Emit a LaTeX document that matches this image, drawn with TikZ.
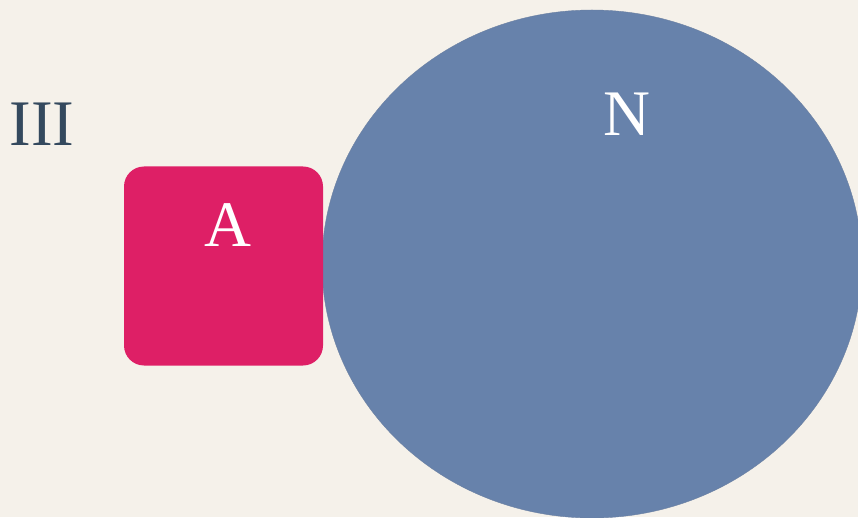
\documentclass[tikz,border=0pt]{standalone}
\usepackage{fontspec}
\setmainfont{Liberation Serif}
\usetikzlibrary{shapes.geometric}
\definecolor{vnBack}{HTML}{F5F1EA}
\definecolor{vnInk}{HTML}{34495E}
\definecolor{vnPink}{HTML}{DE1F66}
\definecolor{vnBlue}{HTML}{6782AB}

\begin{document}
\begin{tikzpicture}[x=1pt, y=1pt,
  lbl/.style={font=\fontsize{65}{78}\selectfont, inner sep=0pt, anchor=base},
  setbox/.style={fill=#1, draw=none, inner sep=0pt}
]
  \useasboundingbox (0,0) rectangle (858,517);
  \fill[vnBack] (0,0) rectangle (858,517);
  \clip (0,0) rectangle (858,517);

  \node[setbox=vnBlue, draw=vnBlue!80!gray, thin, ellipse, minimum width=540, minimum height=508] (nset) at (592,253) {};
  \node[setbox=vnPink, rounded corners=20pt, minimum size=199] (aset) at (223.5,251) {};

  \node[lbl, text=vnInk] (title) at (42,371) {III};
  \node[lbl, text=white] (alab) at (228,270) {A};
  \node[lbl, text=white] (nlab) at (627,381) {N};
\end{tikzpicture}
\end{document}
